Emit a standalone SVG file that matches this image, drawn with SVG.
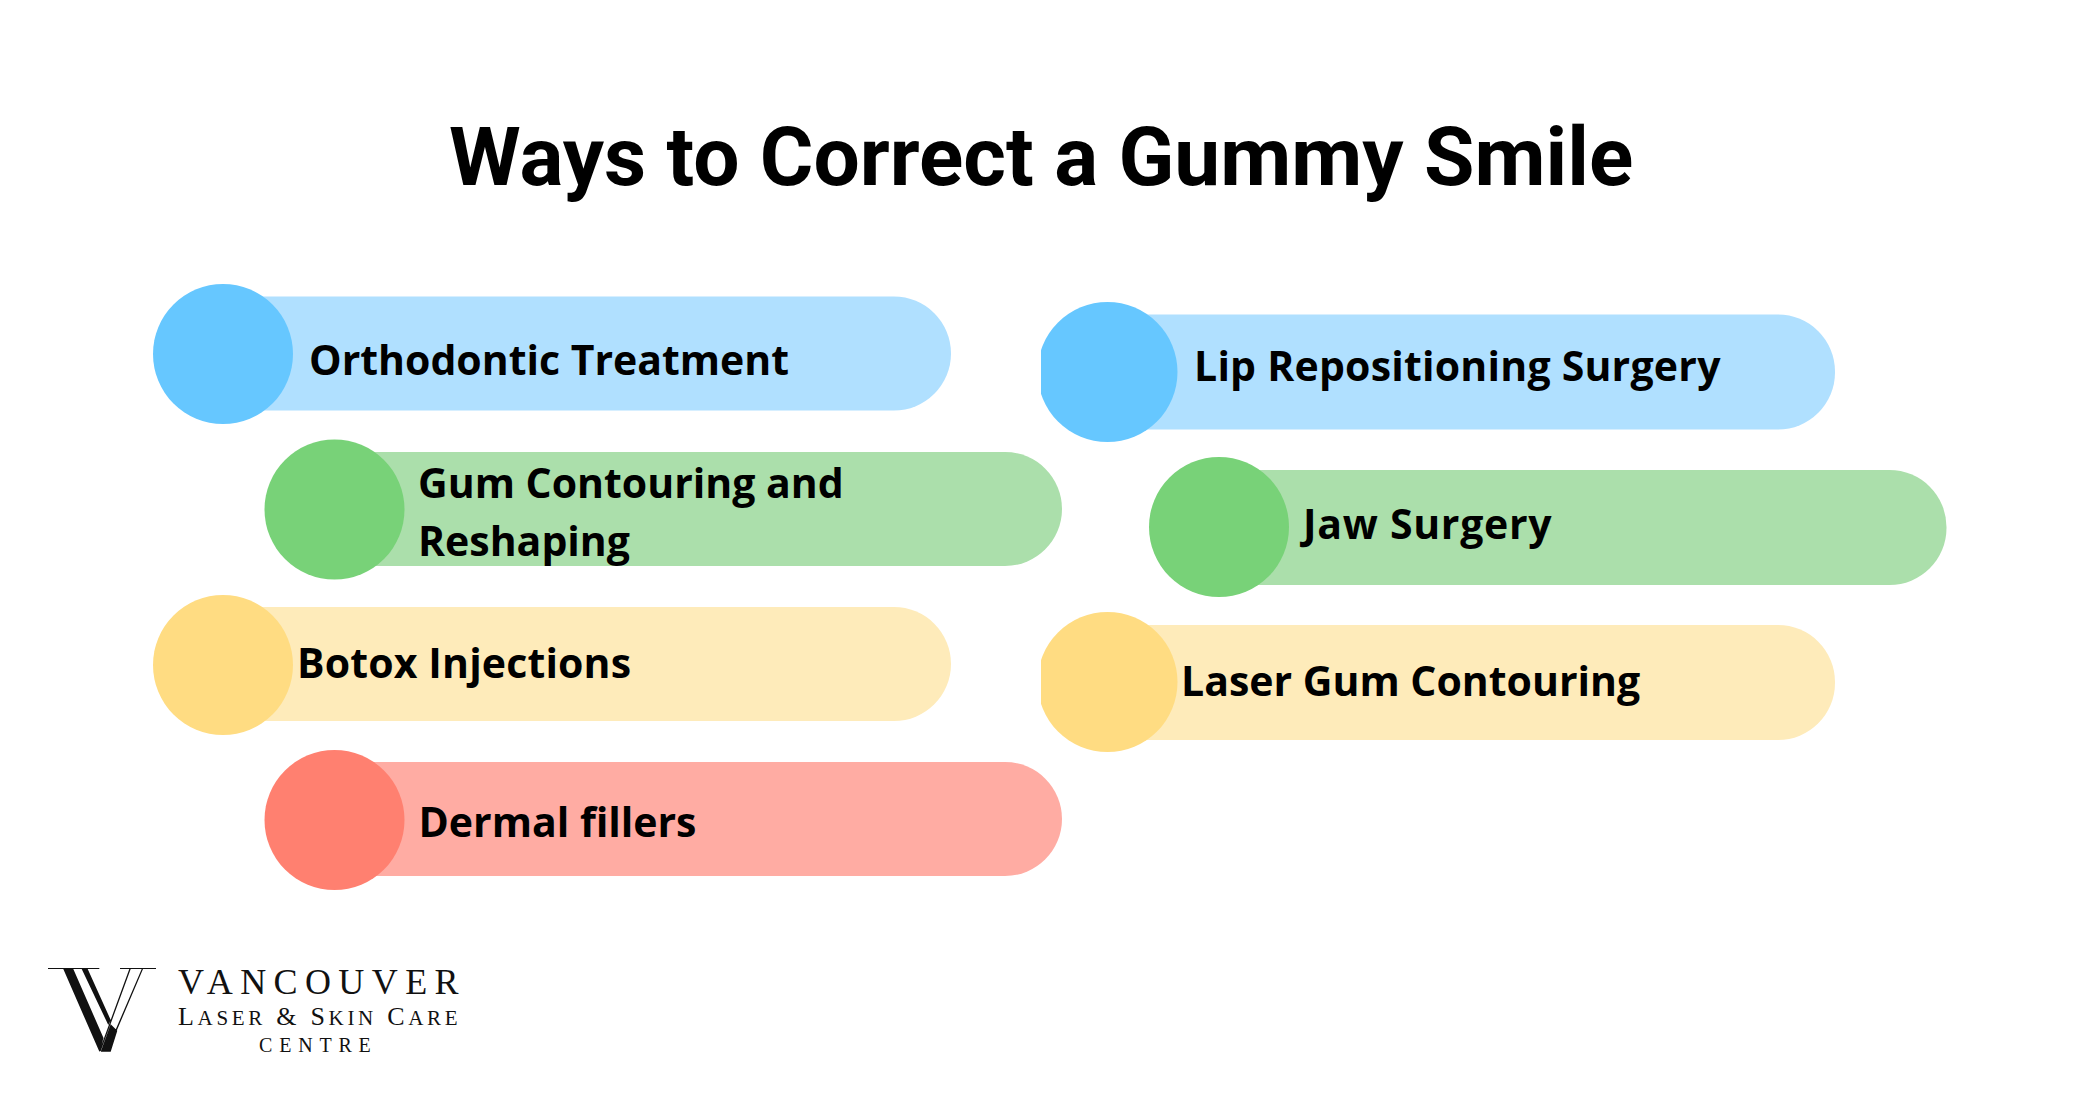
<svg xmlns="http://www.w3.org/2000/svg" width="2100" height="1097" viewBox="0 0 2100 1097">
<style>
.t{font-family:"Open Sans","Noto Sans",sans-serif;font-weight:700;font-size:41px;fill:#000}
.title{font-family:Roboto,"Liberation Sans",sans-serif;font-weight:700;font-size:82px;fill:#000}
.l{font-family:"Liberation Serif",serif;fill:#111}
.bb{fill:#b0e0ff}.cb{fill:#66c7ff}.bg{fill:#abdfab}.cg{fill:#78d278}.by{fill:#feebba}.cy{fill:#ffdc82}.br{fill:#ffaca3}.cr{fill:#ff8070}
</style>
<defs><clipPath id="c"><rect x="1041" y="280" width="300" height="480"/></clipPath></defs>
<rect width="2100" height="1097" fill="#fff"/>
<text id="title" class="title" x="449" y="185">Ways to Correct a Gummy Smile</text>
<g id="n1"><rect class="bb" x="200" y="296.500" width="751" height="114" rx="57"/><circle class="cb" cx="223" cy="354" r="70"/><text class="t" x="309" y="375">Orthodontic Treatment</text></g>
<g id="n2"><rect class="bg" x="312" y="452" width="750" height="114" rx="57"/><circle class="cg" cx="334.500" cy="509.500" r="70"/><text class="t" x="418" y="498">Gum Contouring and</text><text class="t" x="418" y="556">Reshaping</text></g>
<g id="n3"><rect class="by" x="200" y="607" width="751" height="114" rx="57"/><circle class="cy" cx="223" cy="665" r="70"/><text class="t" x="297" y="678" letter-spacing="0.150">Botox Injections</text></g>
<g id="n4"><rect class="br" x="312" y="762" width="750" height="114" rx="57"/><circle class="cr" cx="334.500" cy="820" r="70"/><text class="t" x="418.500" y="837">Dermal fillers</text></g>
<g id="n5"><rect class="bb" x="1085" y="314.500" width="750" height="115" rx="57"/><circle class="cb" cx="1107.500" cy="372" r="70" clip-path="url(#c)"/><text class="t" x="1194" y="381" letter-spacing="0.220">Lip Repositioning Surgery</text></g>
<g id="n6"><rect class="bg" x="1200" y="470" width="746.500" height="115" rx="57"/><circle class="cg" cx="1223" cy="527" r="70" transform="translate(-4 0)"/><text class="t" x="1303" y="539" letter-spacing="0.700">Jaw Surgery</text></g>
<g id="n7"><rect class="by" x="1085" y="625" width="750" height="115" rx="57"/><circle class="cy" cx="1107.500" cy="682" r="70" clip-path="url(#c)"/><text class="t" x="1181" y="695.500">Laser Gum Contouring</text></g>
<g id="logo">
<path fill="#111" d="M48 968H99.300V969H48ZM120 968H156V969H120Z"/>
<path fill="#111" d="M63.300 969H73.300L103.500 1038L99.500 1052ZM81.700 969H87.700L110.700 1020L108.300 1025ZM129.300 969H130.700L100.700 1051H99.300ZM141.700 969H143L116.700 1030.700L115.500 1030ZM110.700 1024.300L117.300 1030.700L110.700 1051.700H100.700Z"/>
<text class="l" x="178" y="994" font-size="36" letter-spacing="7.400">VANCOUVER</text>
<text class="l" x="178" y="1025" font-size="26" letter-spacing="3.700">L<tspan font-size="21">ASER</tspan> &amp; S<tspan font-size="21">KIN</tspan> C<tspan font-size="21">ARE</tspan></text>
<text class="l" x="259" y="1052" font-size="20" letter-spacing="6.800">CENTRE</text>
</g>
</svg>
